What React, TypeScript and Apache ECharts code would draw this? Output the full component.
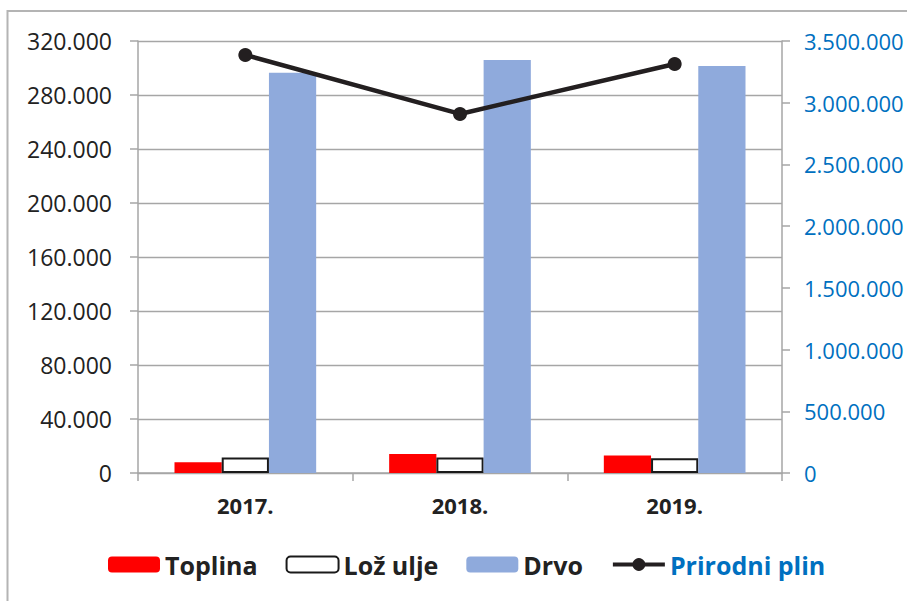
import React, { useEffect, useRef } from "react";
import * as echarts from "echarts";

const categories = ["2017.", "2018.", "2019."];
const toplina = [8000, 14000, 13000];
const lozUlje = [11500, 11500, 11000];
const drvo = [296500, 306000, 301500];
const prirodniPlin = [3387000, 2909000, 3314000];

const fmt = (v: number) => String(v).replace(/\B(?=(\d{3})+(?!\d))/g, ".");

const FONT = "Open Sans";

export default function App() {
  const ref = useRef<HTMLDivElement>(null);
  useEffect(() => {
    if (!ref.current) return;
    const chart = echarts.init(ref.current, null, { renderer: "svg" });
    chart.setOption({
      animation: false,
      backgroundColor: "#ffffff",
      textStyle: { fontFamily: FONT },
      graphic: [
        {
          type: "rect",
          shape: { x: 7.5, y: 11, width: 960, height: 700 },
          style: { fill: "none", stroke: "#B4B4B4", lineWidth: 2 },
          silent: true,
        },
      ],
      grid: { left: 138, right: 125, top: 41, bottom: 128, containLabel: false },
      legend: {
        left: 108,
        top: 552,
        padding: 0,
        itemWidth: 52,
        itemHeight: 16,
        itemGap: 28,
        lineStyle: { width: 4 },
        textStyle: { fontFamily: FONT, fontSize: 25, fontWeight: "bold", color: "#222222", lineHeight: 25 },
        data: [
          { name: "Toplina" },
          { name: "Lož ulje" },
          { name: "Drvo" },
          {
            name: "Prirodni plin",
            textStyle: { color: "#0070C0" },
            lineStyle: { width: 4, color: "#231F20" },
            itemStyle: { color: "#231F20" },
          },
        ],
      },
      xAxis: {
        type: "category",
        data: categories,
        axisLine: { show: true, lineStyle: { color: "#A6A6A6", width: 1.5 } },
        axisTick: { show: true, length: 8, alignWithLabel: false, lineStyle: { color: "#A6A6A6", width: 1.5 } },
        axisLabel: { fontFamily: FONT, fontSize: 22, fontWeight: "bold", color: "#222222", margin: 21 },
      },
      yAxis: [
        {
          type: "value",
          min: 0,
          max: 320000,
          interval: 40000,
          axisLine: { show: true, lineStyle: { color: "#A6A6A6", width: 1.5 } },
          axisTick: { show: true, length: 8, lineStyle: { color: "#A6A6A6", width: 1.5 } },
          splitLine: { show: true, lineStyle: { color: "#A6A6A6", width: 1.3 } },
          axisLabel: { fontFamily: FONT, fontSize: 23, color: "#222222", margin: 26, formatter: (v: number) => fmt(v) },
        },
        {
          type: "value",
          min: 0,
          max: 3500000,
          interval: 500000,
          position: "right",
          axisLine: { show: true, lineStyle: { color: "#A6A6A6", width: 1.5 } },
          axisTick: { show: true, length: 8, lineStyle: { color: "#A6A6A6", width: 1.5 } },
          splitLine: { show: false },
          axisLabel: { fontFamily: FONT, fontSize: 22, color: "#0070C0", margin: 22, formatter: (v: number) => fmt(v) },
        },
      ],
      series: [
        {
          name: "Toplina",
          type: "bar",
          data: toplina,
          barGap: "0%",
          barCategoryGap: "34%",
          itemStyle: { color: "#FF0000" },
        },
        {
          name: "Lož ulje",
          type: "bar",
          data: lozUlje,
          itemStyle: { color: "#FFFFFF", borderColor: "#1A1A1A", borderWidth: 2 },
        },
        {
          name: "Drvo",
          type: "bar",
          data: drvo,
          itemStyle: { color: "#8FAADC" },
        },
        {
          name: "Prirodni plin",
          type: "line",
          yAxisIndex: 1,
          data: prirodniPlin,
          symbol: "circle",
          symbolSize: 14,
          z: 5,
          lineStyle: { color: "#231F20", width: 4.5 },
          itemStyle: { color: "#231F20" },
        },
      ],
    });
    return () => chart.dispose();
  }, []);
  return (
    <div
      ref={ref}
      style={{ position: "fixed", left: 0, top: 0, width: 907, height: 601 }}
    />
  );
}
